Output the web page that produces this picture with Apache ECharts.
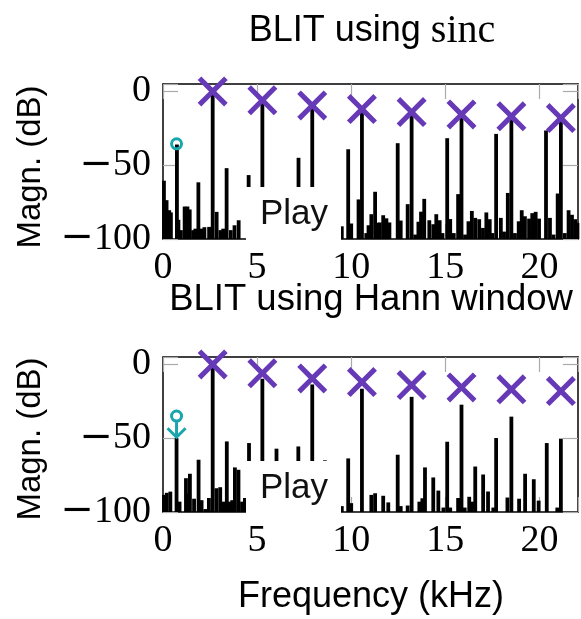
<!DOCTYPE html>
<html>
<head>
<meta charset="utf-8">
<script src="https://cdn.jsdelivr.net/npm/echarts@6/dist/echarts.min.js"></script>
<style>
html, body { margin: 0; padding: 0; background: #fff; }
#chart { width: 581px; height: 619px; }
</style>
</head>
<body>
<div id="chart"></div>
<script>
// spectrum of the sinc BLIT (kHz, dB)
var sincFreq = [0.05, 0.19, 0.33, 0.42, 0.74, 0.82, 0.95, 1.15, 1.3, 1.42, 1.6, 1.72, 1.88, 2.05, 2.2, 2.45,
    2.64, 2.85, 3.05, 3.2, 3.38, 3.6, 3.8, 4.02, 4.55, 5.28, 7.2, 7.93, 9.5, 9.84, 10.0, 10.39, 10.57,
    10.8, 10.92, 11.07, 11.27, 11.4, 11.52, 11.7, 11.87, 12.03, 12.47, 12.63, 13.0, 13.21, 13.4, 13.57,
    13.71, 13.88, 14.15, 14.36, 14.52, 14.7, 14.85, 15.1, 15.26, 15.45, 15.68, 15.86, 16.05, 16.23,
    16.41, 16.59, 16.8, 17.0, 17.18, 17.36, 17.5, 17.7, 17.95, 18.12, 18.32, 18.51, 18.7, 18.9, 19.06,
    19.23, 19.45, 19.62, 19.8, 19.98, 20.35, 20.56, 20.75, 20.97, 21.14, 21.35, 21.55, 21.73, 21.9, 22.02];
var sincMag = [-60.5, -73.7, -80.5, -82, -36, -87, -94, -78, -78, -80, -94, -93, -61.6, -93, -92, -91.8,
    -1, -81.6, -94, -93, -52, -94, -90.7, -87.3, -56.7, -6.5, -45, -10, -91.4, -39.2, -89.5, -73.2, -12.3,
    -96, -90.7, -83.2, -68, -89, -88.8, -83.9, -86, -88.8, -35.1, -87.5, -76.4, -14.5, -97, -88.3,
    -81.5, -72.8, -87.3, -90, -83.2, -87.3, -96, -31.7, -86.5, -96, -69.6, -16, -97, -88,
    -81, -85.7, -86.6, -92.5, -82, -86.6, -96, -28.8, -85.7, -95, -68.8, -17.2, -96, -88, -80.5,
    -84.6, -86.2, -82.5, -81.6, -86.2, -26.5, -85.7, -97, -69.2, -18.3, -96, -80.5, -83.6, -86.6, -89];

// spectrum of the Hann-windowed BLIT
var hannFreq = [0.05, 0.2, 0.39, 0.72, 0.88, 1.22, 1.33, 1.43, 1.65, 1.89, 2.05, 2.25, 2.44, 2.64, 2.84,
    3.04, 3.2, 3.39, 3.55, 3.68, 3.82, 4.01, 4.2, 4.35, 4.57, 5.28, 6.03, 7.19, 7.93, 8.6, 9.5, 9.84, 10.0,
    10.57, 11.07, 11.27, 11.7, 11.97, 12.47, 12.63, 13.0, 13.21, 13.62, 13.78, 13.92, 14.36, 14.63, 14.9,
    15.1, 15.26, 15.68, 15.86, 16.03, 16.27, 16.42, 16.59, 17.01, 17.27, 17.55, 17.7, 18.3, 18.51, 18.92,
    19.24, 19.7, 19.96, 20.39, 20.95, 21.14];
var hannMag = [-88.4, -87, -86.2, -50, -93, -77.1, -87.6, -74.1, -91, -64.6, -92, -98, -90.5, -2, -83.9,
    -83.2, -93, -52.2, -93, -92, -69.8, -71.4, -93, -90.5, -53.3, -9.7, -57.1, -55.6, -13.6, -65, -96, -63.7, -94,
    -16.5, -88.4, -87.3, -89, -93.5, -61.2, -96, -95.6, -22, -93, -90.7, -69.8, -76.6, -85.5, -97,
    -52.4, -97, -90.5, -27.3, -97, -89.7, -93, -69.2, -74.6, -86.1, -97, -49.9, -90.2, -35.4, -91,
    -74.1, -77.8, -92.3, -53.3, -97, -50.3];

// ideal harmonic levels (crosses)
var harmFreq = [2.64, 5.28, 7.93, 10.57, 13.21, 15.86, 18.51, 21.14];
var harmMag = [0, -6, -9.5, -12, -14, -15.6, -16.9, -18.1];

// marked component: circle level, arrow tip level
var markFreq = [0.72];
var sincMark = [-35.5];
var hannMark = [-35];
var hannArrowTip = [-50];

var xTicks = [0, 5, 10, 15, 20];
var yTicks = [-100, -50, 0];

var purple = '#6639b7';
var cyan = '#19a5ad';
var sans = 'Liberation Sans';
var serif = 'Liberation Serif';

var chart = echarts.init(document.getElementById('chart'));

function pairs(xs, ys) {
    var out = [];
    for (var i = 0; i < xs.length; i++) out.push([xs[i], ys[i]]);
    return out;
}

function renderBar(params, api) {
    var top = api.coord([api.value(0), api.value(1)]);
    var base = api.coord([api.value(0), -100]);
    return {
        type: 'rect',
        shape: { x: top[0] - 1.9, y: top[1], width: 3.8, height: base[1] - top[1] },
        style: { fill: '#000' }
    };
}

function renderCircle(params, api) {
    var c = api.coord([api.value(0), api.value(1)]);
    return {
        type: 'circle',
        shape: { cx: c[0], cy: c[1], r: 5 },
        style: { fill: 'none', stroke: cyan, lineWidth: 3 }
    };
}

function renderArrow(params, api) {
    var c = api.coord([api.value(0), api.value(1)]);
    var t = api.coord([api.value(0), api.value(2)]);
    return {
        type: 'group',
        children: [
            { type: 'circle', shape: { cx: c[0], cy: c[1], r: 5 }, style: { fill: 'none', stroke: cyan, lineWidth: 3 } },
            { type: 'line', shape: { x1: c[0], y1: c[1] + 6, x2: t[0], y2: t[1] - 1 }, style: { stroke: cyan, lineWidth: 3 } },
            { type: 'polyline', shape: { points: [[t[0] - 9, t[1] - 10], [t[0], t[1] - 1], [t[0] + 9, t[1] - 10]] },
              style: { fill: 'none', stroke: cyan, lineWidth: 3 } }
        ]
    };
}

function tickLabel(v) {
    if (v < 0) return '{m|\u2212}{d|' + Math.abs(v) + '}';
    return '{d|' + v + '}';
}

var labelRich = {
    m: { fontFamily: 'DejaVu Serif', fontSize: 40, color: '#000' },
    d: { fontFamily: serif, fontSize: 38, color: '#000' }
};

function xAxisFor(grid, pos) {
    return {
        type: 'value', gridIndex: grid, position: pos, min: 0, max: 22.05, interval: 5,
        axisLine: { show: true, onZero: false, lineStyle: { color: '#000', width: 1.5 } },
        axisTick: { show: true, inside: true, length: 15, lineStyle: { color: '#aaa', width: 1.2 } },
        axisLabel: {
            show: pos === 'bottom', margin: 10,
            formatter: function (v) { return xTicks.indexOf(v) >= 0 ? tickLabel(v) : ''; },
            rich: labelRich
        },
        splitLine: { show: false }
    };
}

function yAxisFor(grid, pos) {
    return {
        type: 'value', gridIndex: grid, position: pos, min: -100, max: 5, interval: 50,
        axisLine: { show: true, onZero: false, lineStyle: { color: '#000', width: 1.5 } },
        axisTick: { show: true, inside: true, length: 15, lineStyle: { color: '#aaa', width: 1.2 } },
        axisLabel: {
            show: pos === 'left', margin: 12,
            formatter: function (v) { return yTicks.indexOf(v) >= 0 ? tickLabel(v) : ''; },
            rich: labelRich
        },
        splitLine: { show: false }
    };
}

var xSymbol = 'path://M0,12L12,0L50,38L88,0L100,12L62,50L100,88L88,100L50,62L12,100L0,88L38,50Z';

function panelSeries(grid, freq, mag) {
    return [{
        type: 'custom', xAxisIndex: grid * 2, yAxisIndex: grid * 2,
        renderItem: renderBar, data: pairs(freq, mag), z: 3, silent: true
    }, {
        type: 'scatter', xAxisIndex: grid * 2, yAxisIndex: grid * 2,
        symbol: xSymbol, symbolSize: 30, itemStyle: { color: purple, opacity: 1 },
        data: pairs(harmFreq, harmMag), z: 5, silent: true
    }];
}

function boxGraphic(cy) {
    return [{
        type: 'rect', z: 100, shape: { x: 246, y: cy - 27, width: 95, height: 58 },
        style: { fill: '#fff' }
    }, {
        type: 'text', z: 101, x: 294, y: cy,
        style: { text: 'Play', fontFamily: sans, fontSize: 35, fill: '#111', align: 'center', verticalAlign: 'middle' }
    }];
}

var option = {
    animation: false,
    backgroundColor: '#fff',
    grid: [
        { left: 163, top: 84, width: 416, height: 155 },
        { left: 163, top: 357, width: 416, height: 155 }
    ],
    xAxis: [xAxisFor(0, 'bottom'), xAxisFor(0, 'top'), xAxisFor(1, 'bottom'), xAxisFor(1, 'top')],
    yAxis: [yAxisFor(0, 'left'), yAxisFor(0, 'right'), yAxisFor(1, 'left'), yAxisFor(1, 'right')],
    series: [].concat(
        panelSeries(0, sincFreq, sincMag),
        panelSeries(1, hannFreq, hannMag),
        [{
            type: 'custom', xAxisIndex: 0, yAxisIndex: 0, renderItem: renderCircle,
            data: pairs(markFreq, sincMark), z: 6, silent: true
        }, {
            type: 'custom', xAxisIndex: 2, yAxisIndex: 2, renderItem: renderArrow,
            data: [[markFreq[0], hannMark[0], hannArrowTip[0]]], z: 6, silent: true
        }]
    ),
    graphic: [].concat(
        boxGraphic(214),
        boxGraphic(488),
        [{
            type: 'text', x: 372, y: 31,
            style: {
                text: '{a|BLIT using }{b|sinc}', align: 'center', verticalAlign: 'middle',
                rich: {
                    a: { fontFamily: sans, fontSize: 36, fill: '#000' },
                    b: { fontFamily: serif, fontSize: 40, fill: '#000' }
                }
            }
        }, {
            type: 'text', x: 371, y: 300,
            style: { text: 'BLIT using Hann window', fontFamily: sans, fontSize: 36.5, fill: '#000', align: 'center', verticalAlign: 'middle' }
        }, {
            type: 'text', x: 371, y: 597,
            style: { text: 'Frequency (kHz)', fontFamily: sans, fontSize: 36, fill: '#000', align: 'center', verticalAlign: 'middle' }
        }, {
            type: 'text', x: 31, y: 167, rotation: Math.PI / 2,
            style: { text: 'Magn. (dB)', fontFamily: sans, fontSize: 33, fill: '#000', align: 'center', verticalAlign: 'middle' }
        }, {
            type: 'text', x: 31, y: 439, rotation: Math.PI / 2,
            style: { text: 'Magn. (dB)', fontFamily: sans, fontSize: 33, fill: '#000', align: 'center', verticalAlign: 'middle' }
        }]
    )
};

chart.setOption(option);
</script>
</body>
</html>
